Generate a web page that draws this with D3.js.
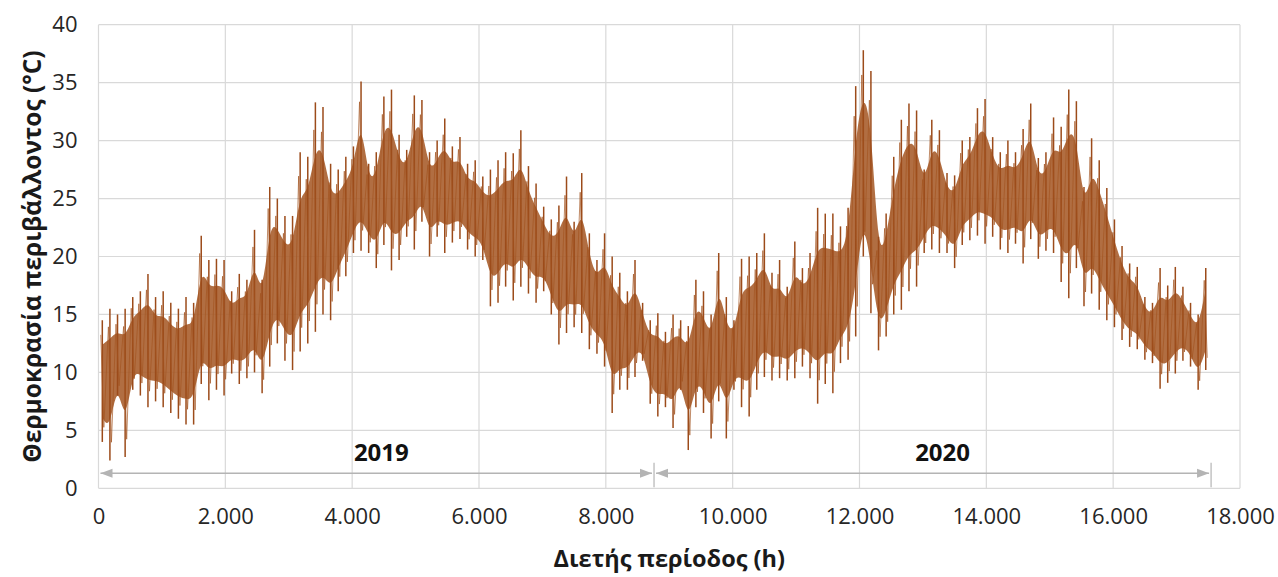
<!DOCTYPE html>
<html>
<head>
<meta charset="utf-8">
<script src="https://cdn.jsdelivr.net/npm/d3@7/dist/d3.min.js"></script>
<style>
  body { margin: 0; background: #fff; }
  text { font-family: "Open Sans", sans-serif; }
</style>
</head>
<body>
<svg id="chart" width="1278" height="577"></svg>
<script>
// hourly ambient temperature, read as max / min per 120 h block
const blockHours = 120;
const tMax = [14.5, 15.5, 15, 15.5, 16.5, 17, 18.5, 16.5, 17, 16,
  15.5, 16.5, 16, 21.8, 19.7, 19.8, 19.7, 17, 18.5, 18,
  22.3, 18, 26, 25, 23.5, 23.5, 29, 28.6, 33.3, 32.9,
  28, 27.5, 28.6, 29.5, 35.1, 28, 29, 33.8, 34.4, 30.5,
  29.2, 33.9, 33.5, 29, 30, 31.9, 29.5, 30.3, 28, 28.3,
  26.9, 27.5, 28.3, 29, 28.9, 30.9, 27.8, 26.3, 24.3, 23.2,
  24.4, 26.9, 23, 27.2, 22, 19.7, 22, 20, 18.6, 17,
  19.7, 16, 14.5, 15.1, 13.5, 15, 14.5, 14, 18, 17,
  15, 20.3, 16.5, 14.5, 19.8, 20, 20.3, 22, 18.6, 19.7,
  17.4, 21.3, 19, 20.3, 24.2, 23.7, 23.7, 22.6, 24.2, 34.7,
  37.8, 36, 21.7, 23.7, 28.6, 31.8, 33.2, 32.6, 27.5, 31.8,
  30.9, 27.2, 27, 30, 30.3, 32.8, 33.6, 30.3, 29, 30,
  29, 31, 33.2, 28.5, 29, 32, 31.2, 34.4, 33.4, 26,
  30.2, 28.3, 25.9, 23.2, 20.9, 19.4, 19.1, 16.5, 16, 19,
  17.5, 19.1, 17.4, 16, 15, 19];
const tMin = [4, 2.4, 8, 2.7, 8.5, 8, 7, 7.5, 7, 6.5,
  6, 5.5, 5.5, 9, 7.6, 8.5, 8, 9.9, 9, 9.5,
  10, 8.2, 10.5, 12.5, 11, 10.2, 11.8, 12.5, 13.5, 15,
  14.5, 17, 18.3, 20.3, 20.5, 20.3, 19, 21, 18.8, 19.7,
  21.7, 20.6, 23, 20, 21.7, 20.3, 21.2, 21.5, 20.6, 20,
  19.7, 15.7, 16, 17.4, 16.2, 17.4, 16.8, 16, 17, 15,
  12.4, 13.4, 13.9, 13.4, 12, 11.6, 10.5, 6.5, 8.5, 8.5,
  9.6, 11, 7.3, 6.2, 7, 5.2, 8.5, 3.3, 7, 6.5,
  4.3, 7.5, 4.3, 8.5, 7, 6.2, 8.5, 9.6, 9.3, 9.5,
  9.3, 9.5, 10.5, 9.5, 7.3, 9, 8.2, 10.8, 11.1, 13.1,
  20, 15.1, 11.9, 13.1, 15, 15.4, 17, 17.4, 20.3, 20.6,
  20.3, 20.3, 19, 21, 21.4, 21.8, 21.1, 21.7, 20.6, 20.3,
  21.1, 19.4, 21.5, 19.8, 20.5, 20.3, 17.8, 16.4, 19, 15.7,
  16.8, 15.4, 14.5, 13.9, 12.8, 12.2, 12, 11.1, 10.8, 8.6,
  9.1, 9.9, 11, 10.5, 8.5, 10.2];

const yTicks = [0, 5, 10, 15, 20, 25, 30, 35, 40];
const xTicks = [0, 2000, 4000, 6000, 8000, 10000, 12000, 14000, 16000, 18000];
const yearNames = ["2019", "2020"];
const yearStart = [0, 8760];
const yearEnd = [8760, 17544];
const yearLabelAt = [4460, 13310];

const svg = d3.select("#chart");

// scales
var x = d3.scaleLinear().domain([0, 18000]).range([98.5, 1240]);
var y = d3.scaleLinear().domain([0, 40]).range([488.3, 24.7]);

const fmt = d => d === 0 ? "0" : d3.format(",")(d).replace(/,/g, ".");

// grid
svg.append("g")
  .selectAll("line")
  .data(yTicks)
  .join("line")
  .attr("x1", x(0)).attr("x2", x(18000))
  .attr("y1", d => y(d)).attr("y2", d => y(d))
  .attr("stroke", "#d9d9d9").attr("stroke-width", 1.2);
svg.append("g")
  .selectAll("line")
  .data(xTicks)
  .join("line")
  .attr("x1", d => x(d)).attr("x2", d => x(d))
  .attr("y1", y(0)).attr("y2", y(40))
  .attr("stroke", "#d9d9d9").attr("stroke-width", 1.2);

// Y axis labels
svg.append("g")
  .attr("transform", `translate(${x(0) - 21},0)`)
  .call(d3.axisLeft(y).tickValues(yTicks).tickSize(0).tickPadding(0))
  .call(g => g.select(".domain").remove())
  .selectAll("text")
  .attr("font-size", 22).attr("fill", "#262626")
  .style("font-family", '"Open Sans", sans-serif');

// X axis labels
svg.append("g")
  .attr("transform", `translate(0,${y(0) + 20})`)
  .call(d3.axisBottom(x).tickValues(xTicks).tickFormat(fmt).tickSize(0).tickPadding(0))
  .call(g => g.select(".domain").remove())
  .selectAll("text")
  .attr("font-size", 22).attr("fill", "#262626")
  .style("font-family", '"Open Sans", sans-serif');

// year span arrows
const arrowY = y(1.3);
const gray = "#b4b4b4";
yearNames.forEach((name, i) => {
  const x0 = x(yearStart[i]) + 2, x1 = x(yearEnd[i]) - 2;
  svg.append("line")
    .attr("x1", x0).attr("x2", x1)
    .attr("y1", arrowY).attr("y2", arrowY)
    .attr("stroke", gray).attr("stroke-width", 1.5);
  svg.append("path")
    .attr("d", `M${x0},${arrowY} l12,-4.5 l0,9 Z`)
    .attr("fill", gray);
  svg.append("path")
    .attr("d", `M${x1},${arrowY} l-12,-4.5 l0,9 Z`)
    .attr("fill", gray);
  svg.append("line")
    .attr("x1", x(yearEnd[i])).attr("x2", x(yearEnd[i]))
    .attr("y1", y(2.2)).attr("y2", y(0.1))
    .attr("stroke", gray).attr("stroke-width", 1.2);
  svg.append("text")
    .attr("x", x(yearLabelAt[i]))
    .attr("y", arrowY - 12)
    .attr("text-anchor", "middle")
    .attr("font-size", 24).attr("font-weight", "bold")
    .attr("fill", "#111")
    .text(name);
});

// temperature: the hourly line is so dense it reads as a band with needles
const blocks = tMax.map((v, i) => ({ h: i * blockHours + blockHours / 2, hi: v, lo: tMin[i] }));

// dense core of the band
svg.append("path")
  .datum(blocks)
  .attr("fill", "#a65a28")
  .attr("fill-opacity", 0.88)
  .attr("d", d3.area()
    .curve(d3.curveBasis)
    .x(d => x(d.h))
    .y0(d => y(d.lo + (d.hi - d.lo) * 0.2))
    .y1(d => y(d.hi - (d.hi - d.lo) * 0.2)));

// needles from each block's min to max
svg.append("g")
  .selectAll("line")
  .data(blocks)
  .join("line")
  .attr("x1", d => x(d.h)).attr("x2", d => x(d.h))
  .attr("y1", d => y(d.lo)).attr("y2", d => y(d.hi))
  .attr("stroke", "#9c4b1a")
  .attr("stroke-width", 1.5);

// slanted strokes joining neighbouring extremes
const pts = [];
blocks.forEach(d => {
  pts.push([d.h - blockHours * 0.2, d.hi - (d.hi - d.lo) * 0.12]);
  pts.push([d.h + blockHours * 0.2, d.lo + (d.hi - d.lo) * 0.12]);
});
svg.append("path")
  .datum(pts)
  .attr("fill", "none")
  .attr("stroke", "#a3531f")
  .attr("stroke-width", 0.9)
  .attr("stroke-opacity", 0.75)
  .attr("d", d3.line().x(d => x(d[0])).y(d => y(d[1])));

// axis titles
svg.append("text")
  .attr("x", (x(0) + x(18000)) / 2)
  .attr("y", 567)
  .attr("text-anchor", "middle")
  .attr("font-size", 23.5).attr("font-weight", "bold")
  .attr("fill", "#1a1a1a")
  .text("Διετής περίοδος (h)");

svg.append("text")
  .attr("transform", `translate(41,${(y(0) + y(40)) / 2}) rotate(-90)`)
  .attr("text-anchor", "middle")
  .attr("font-size", 24.5).attr("font-weight", "bold")
  .attr("fill", "#1a1a1a")
  .text("Θερμοκρασία περιβάλλοντος (°C)");
</script>
</body>
</html>
